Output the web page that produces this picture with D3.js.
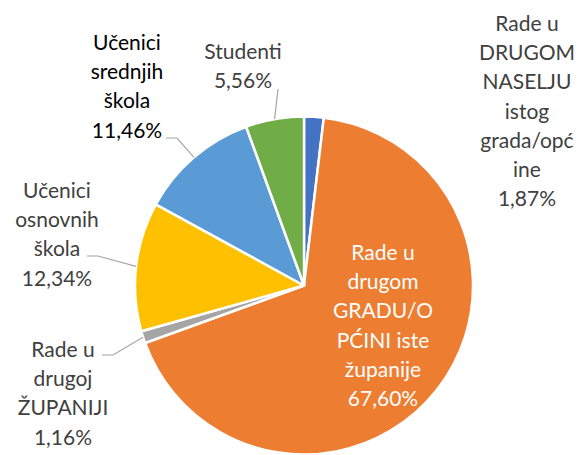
<!DOCTYPE html>
<html>
<head>
<meta charset="utf-8">
<script src="https://cdn.jsdelivr.net/npm/d3@7"></script>
<style>
  body { margin: 0; background: #fff; }
  svg text { font-family: Lato, "Open Sans", sans-serif; }
</style>
</head>
<body>
<svg id="chart"></svg>
<script>
// data
var categories = [
  ["Rade u", "DRUGOM", "NASELJU", "istog", "grada/opć", "ine"],
  ["Rade u", "drugom", "GRADU/O", "PĆINI iste", "županije"],
  ["Rade u", "drugoj", "ŽUPANIJI"],
  ["Učenici", "osnovnih", "škola"],
  ["Učenici", "srednjih", "škola"],
  ["Studenti"]
];
var values = [1.87, 67.60, 1.16, 12.34, 11.46, 5.56];
var valueLabels = ["1,87%", "67,60%", "1,16%", "12,34%", "11,46%", "5,56%"];
var colors = ["#4472C4", "#ED7D31", "#A5A5A5", "#FFC000", "#5B9BD5", "#70AD47"];

// label layout: centre x, first baseline, text colour, leader elbow (or null)
var labelPos = [
  { x: 527, y: 31,  fill: "#404040", elbow: null },
  { x: 383, y: 260, fill: "#ffffff", elbow: null },
  { x: 63,  y: 357, fill: "#404040", elbow: [[102, 355], [113, 355]] },
  { x: 57,  y: 198, fill: "#404040", elbow: [[87, 256], [98, 256]] },
  { x: 127, y: 50,  fill: "#000000", elbow: [[166, 138], [177, 138]] },
  { x: 243, y: 59,  fill: "#404040", elbow: [[278, 89]] }
];

var w = 586, h = 455;
var cx = 304, cy = 285.5, R = 169;
var lineH = 29.2;

var svg = d3.select("#chart").attr("width", w).attr("height", h);

var pie = d3.pie().sort(null).value(function(d) { return d; });
var arcs = pie(values);
var arc = d3.arc().innerRadius(0).outerRadius(R);

var g = svg.append("g").attr("transform", "translate(" + cx + "," + cy + ")");

g.selectAll("path.slice").data(arcs).enter().append("path")
  .attr("class", "slice")
  .attr("d", arc)
  .attr("fill", function(d, i) { return colors[i]; })
  .attr("stroke", "#fff")
  .attr("stroke-width", 2.5)
  .attr("stroke-linejoin", "round");

// leader lines
arcs.forEach(function(d, i) {
  var p = labelPos[i];
  if (!p.elbow) return;
  var a = (d.startAngle + d.endAngle) / 2;
  var edge = [cx + R * Math.sin(a), cy - R * Math.cos(a)];
  var pts = p.elbow.concat([edge]);
  svg.append("path")
    .attr("d", d3.line()(pts))
    .attr("fill", "none")
    .attr("stroke", "#A6A6A6")
    .attr("stroke-width", 1.2);
});

// labels
categories.forEach(function(lines, i) {
  var p = labelPos[i];
  var t = svg.append("text")
    .attr("text-anchor", "middle")
    .attr("font-size", 21)
    .attr("fill", p.fill);
  lines.concat([valueLabels[i]]).forEach(function(s, k) {
    t.append("tspan").attr("x", p.x).attr("y", p.y + k * lineH).text(s);
  });
});
</script>
</body>
</html>
